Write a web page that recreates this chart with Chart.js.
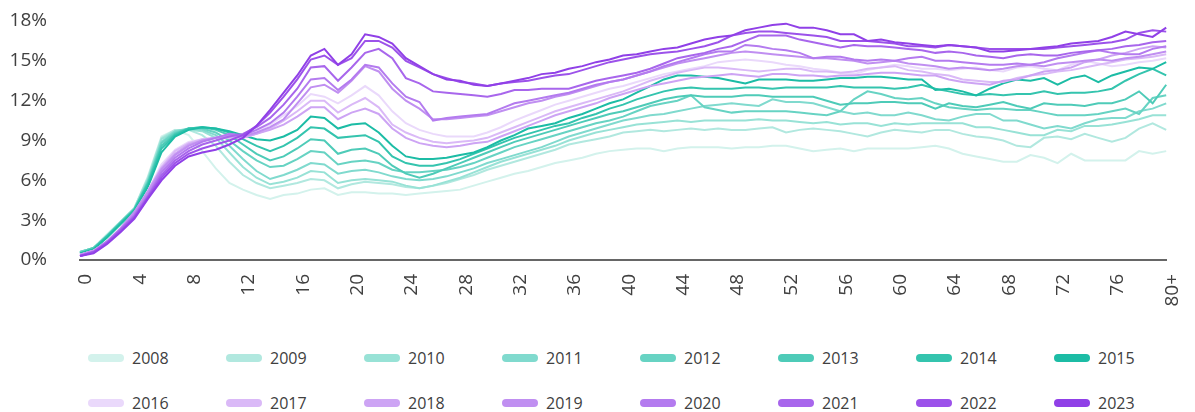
<!DOCTYPE html>
<html>
<head>
    <meta charset="utf-8"/>
    <title></title>
    <script src="https://cdn.jsdelivr.net/npm/chart.js"></script>
    <style>
      body { margin: 0; background: #fff; font-family: "Open Sans", sans-serif; }
      #wrap { position: absolute; left: 0; top: 0; width: 1195px; height: 325px; }
      #legend { position: absolute; left: 88px; top: 346px; width: 1104px; }
      .row { display: flex; height: 45px; }
      .item { width: 138px; display: flex; align-items: center; height: 24px; }
      .swatch { width: 36px; height: 8px; border-radius: 4px; margin-right: 8px; }
      .label { font-size: 16px; color: #404040; }
    </style>
</head>
<body>
    <div id="wrap"><canvas id="ageChart" width="1195" height="325"></canvas></div>
    <div id="legend"></div>

    <script type="text/javascript">
      // Age categories (x axis)
      const ages = ['0','1','2','3','4','5','6','7','8','9','10','11','12','13','14','15','16','17','18','19',
        '20','21','22','23','24','25','26','27','28','29','30','31','32','33','34','35','36','37','38','39',
        '40','41','42','43','44','45','46','47','48','49','50','51','52','53','54','55','56','57','58','59',
        '60','61','62','63','64','65','66','67','68','69','70','71','72','73','74','75','76','77','78','79','80+'];

      const years = ['2008','2009','2010','2011','2012','2013','2014','2015',
                     '2016','2017','2018','2019','2020','2021','2022','2023'];

      const colors = ['#d3f2ec','#b1e8df','#98e2d6','#80dace','#67d3c3','#4ecbb8','#34c4ae','#1cbca5',
                      '#ead9fb','#dab9f7','#cda4f4','#c08ff1','#b47bef','#a866ec','#9c52ea','#9040e7'];

      const yTicks = [0, 3, 6, 9, 12, 15, 18];

      // share (%) per age, one array per year
      const s2008 = [0.6,0.9,1.9,2.9,3.9,6.3,9.3,9.8,9.4,8.2,
        6.9,5.8,5.3,4.9,4.6,4.9,5.0,5.3,5.4,4.9,
        5.1,5.1,5.0,5.0,4.9,5.0,5.1,5.2,5.3,5.6,
        5.9,6.2,6.5,6.7,7.0,7.3,7.5,7.7,8.0,8.2,
        8.3,8.4,8.4,8.2,8.4,8.5,8.5,8.5,8.4,8.5,
        8.5,8.6,8.6,8.4,8.2,8.3,8.4,8.2,8.4,8.4,
        8.4,8.4,8.5,8.6,8.4,8.0,7.8,7.6,7.4,7.4,
        7.9,7.7,7.3,8.0,7.5,7.5,7.5,7.5,8.2,8.0,8.2];
      const s2009 = [0.6,0.9,1.9,2.9,3.9,6.2,9.2,9.8,9.8,9.4,
        8.6,7.4,6.4,5.8,5.4,5.6,5.8,6.1,6.0,5.4,
        5.7,5.9,5.8,5.7,5.5,5.4,5.6,5.8,6.1,6.4,
        6.8,7.1,7.4,7.7,8.0,8.3,8.7,8.9,9.1,9.3,
        9.6,9.7,9.8,9.7,9.8,9.9,9.8,9.9,9.8,9.8,
        9.9,10.0,9.6,9.8,9.9,9.8,9.7,9.5,9.3,9.6,
        9.8,9.7,9.6,9.8,9.8,9.5,9.3,9.2,9.0,8.6,
        8.5,9.2,9.3,9.1,9.5,9.2,8.9,9.2,9.9,10.3,9.8];
      const s2010 = [0.6,0.9,1.9,2.9,3.9,6.1,9.1,9.7,9.8,9.7,
        9.2,8.1,7.0,6.2,5.7,5.9,6.2,6.7,6.6,5.8,
        6.0,6.1,6.0,5.9,5.6,5.4,5.6,5.9,6.2,6.6,
        7.0,7.4,7.7,8.0,8.3,8.6,9.0,9.3,9.6,9.8,
        10.0,10.2,10.3,10.4,10.5,10.4,10.5,10.5,10.5,10.5,
        10.6,10.5,10.5,10.4,10.3,10.4,10.2,10.3,10.3,10.1,
        10.3,10.2,10.3,10.3,10.3,10.3,10.0,10.0,9.8,9.6,
        9.4,9.4,9.8,9.7,10.1,10.1,10.2,10.4,10.6,10.9,10.9];
      const s2011 = [0.6,0.9,1.8,2.8,3.8,6.0,8.9,9.7,9.9,9.8,
        9.4,8.6,7.6,6.7,6.1,6.4,6.8,7.3,7.2,6.5,
        6.7,6.8,6.6,6.3,6.1,6.0,6.1,6.3,6.6,6.9,
        7.3,7.6,7.9,8.2,8.5,8.9,9.3,9.6,9.9,10.2,
        10.5,10.7,10.9,11.0,11.2,11.4,11.6,11.7,11.8,11.7,
        11.6,12.1,11.9,11.9,11.8,11.5,11.2,11.0,11.1,10.9,
        10.9,11.1,10.9,10.6,10.5,10.8,11.0,11.0,10.5,10.5,
        10.2,9.9,10.1,9.9,10.3,10.6,10.7,10.7,11.2,11.4,11.8];
      const s2012 = [0.6,0.9,1.8,2.8,3.8,5.9,8.8,9.6,9.9,9.9,
        9.6,9.0,8.2,7.5,7.0,7.1,7.6,8.2,8.1,7.2,
        7.4,7.5,7.3,6.8,6.6,6.6,6.7,6.8,7.0,7.3,
        7.7,8.1,8.5,8.8,9.1,9.4,9.7,10.0,10.3,10.5,
        10.8,11.2,11.6,11.8,12.0,12.4,11.5,11.3,11.1,11.2,
        11.2,11.2,11.2,11.1,11.0,10.9,11.2,12.1,12.7,12.5,
        12.2,12.1,12.2,11.8,11.5,11.4,11.3,11.4,11.4,11.3,
        11.3,11.1,10.9,10.9,10.9,11.0,11.2,11.4,11.0,12.2,12.4];
      const s2013 = [0.5,0.9,1.8,2.8,3.8,5.8,8.6,9.5,9.9,10.0,
        9.8,9.4,8.7,8.0,7.5,7.8,8.4,9.1,9.0,8.0,
        8.3,8.4,8.0,7.1,6.5,6.2,6.5,6.9,7.3,7.7,
        8.1,8.5,8.9,9.2,9.5,9.8,10.1,10.4,10.7,11.0,
        11.2,11.5,11.8,12.1,12.3,12.4,12.3,12.3,12.3,12.4,
        12.4,12.3,12.3,12.3,12.3,12.0,11.7,11.8,11.8,11.9,
        11.9,11.8,11.8,11.4,11.8,11.6,11.5,11.7,11.9,11.6,
        11.4,11.8,11.7,11.7,11.6,11.8,11.8,12.1,12.7,11.8,13.2];
      const s2014 = [0.5,0.8,1.8,2.8,3.8,5.7,8.4,9.4,9.9,10.0,
        9.9,9.6,9.1,8.6,8.2,8.6,9.2,10.0,9.9,9.2,
        9.3,9.4,8.9,7.8,7.3,7.1,7.1,7.3,7.6,8.0,
        8.4,8.8,9.2,9.5,9.8,10.1,10.3,10.7,11.0,11.4,
        11.7,12.1,12.4,12.7,12.9,13.0,12.9,12.9,12.9,13.0,
        13.0,12.9,13.0,13.0,13.0,13.0,13.1,13.0,13.0,13.0,
        12.9,13.0,13.2,12.9,12.7,12.5,12.4,12.5,12.4,12.5,
        12.5,12.7,12.5,12.6,12.6,12.7,12.9,13.5,14.0,14.4,13.9];
      const s2015 = [0.5,0.8,1.7,2.7,3.7,5.5,8.1,9.3,9.8,10.0,
        9.9,9.7,9.4,9.1,9.0,9.3,9.8,10.8,10.7,9.9,
        10.2,10.3,9.6,8.6,7.8,7.6,7.6,7.7,7.9,8.1,
        8.5,9.0,9.4,9.9,10.1,10.3,10.7,11.0,11.4,11.8,
        12.1,12.6,13.1,13.6,13.9,13.9,13.8,13.7,13.5,13.3,
        13.6,13.6,13.6,13.5,13.5,13.6,13.7,13.7,13.8,13.8,
        13.7,13.6,13.6,12.8,12.9,12.7,12.4,12.9,13.3,13.6,
        13.5,13.7,13.2,13.7,13.9,13.4,13.9,14.2,14.5,14.4,14.9];
      const s2016 = [0.4,0.7,1.3,2.3,3.4,5.2,7.2,8.3,8.9,9.1,
        9.2,9.2,9.3,9.7,10.2,10.9,11.6,12.5,12.3,11.8,
        12.4,13.1,12.4,11.2,10.3,9.8,9.5,9.3,9.3,9.3,
        9.6,10.0,10.5,10.9,11.3,11.7,12.0,12.3,12.6,12.9,
        13.1,13.4,13.7,14.0,14.2,14.4,14.6,14.9,15.0,15.1,
        15.0,14.9,14.7,14.6,14.4,14.3,14.1,14.0,14.3,14.5,
        14.7,14.6,14.4,14.4,14.3,14.4,14.5,14.3,14.2,14.5,
        14.6,14.4,14.3,14.7,15.0,14.8,14.6,14.7,14.9,15.0,15.2];
      const s2017 = [0.4,0.7,1.4,2.4,3.5,5.2,7.0,8.2,8.8,9.1,
        9.2,9.2,9.2,9.5,9.9,10.5,11.2,12.0,12.0,11.1,
        11.7,12.2,11.5,10.2,9.6,9.2,8.9,8.8,8.9,9.0,
        9.2,9.6,10.0,10.4,10.8,11.2,11.5,11.8,12.1,12.4,
        12.7,13.1,13.5,13.8,14.1,14.3,14.5,14.5,14.4,14.3,
        14.2,14.3,14.4,14.4,14.2,14.2,14.1,14.2,14.4,14.5,
        14.6,14.3,14.2,14.0,13.9,13.6,13.5,13.4,13.4,13.7,
        13.9,14.0,14.2,14.3,14.5,14.7,14.9,15.1,15.2,15.3,15.5];
      const s2018 = [0.4,0.7,1.4,2.4,3.6,5.2,6.9,8.0,8.7,9.0,
        9.2,9.3,9.2,9.5,9.8,10.2,10.8,11.5,11.5,10.6,
        11.1,11.4,11.0,9.9,9.2,8.8,8.6,8.5,8.6,8.8,
        8.9,9.3,9.7,10.1,10.5,10.9,11.2,11.5,11.8,12.2,
        12.5,12.8,13.1,13.3,13.5,13.7,13.8,13.9,14.0,13.9,
        13.8,14.0,14.0,13.9,13.9,13.8,13.9,13.9,14.0,14.1,
        14.1,14.0,13.9,13.9,13.6,13.4,13.3,13.2,13.5,13.6,
        13.9,14.2,14.3,14.5,14.9,15.1,15.4,15.6,15.9,16.1,16.0];
      const s2019 = [0.4,0.7,1.4,2.4,3.6,5.1,6.8,7.9,8.6,9.0,
        9.2,9.4,9.3,9.6,10.0,10.6,11.8,13.0,13.2,12.6,
        13.5,14.6,14.2,12.9,12.0,11.4,10.6,10.6,10.7,10.8,
        10.9,11.2,11.5,11.8,12.0,12.3,12.5,12.8,13.1,13.4,
        13.6,13.9,14.2,14.5,14.8,15.0,15.2,15.4,15.6,15.7,
        15.6,15.5,15.4,15.3,15.2,15.2,15.1,15.0,14.8,14.9,
        15.0,14.8,14.7,14.6,14.4,14.5,14.4,14.3,14.4,14.6,
        14.7,14.6,14.8,14.9,15.0,15.1,15.0,15.2,15.3,15.5,15.7];
      const s2020 = [0.3,0.6,1.4,2.3,3.4,4.9,6.6,7.7,8.4,8.9,
        9.2,9.5,9.4,9.8,10.3,11.1,12.3,13.6,13.7,12.8,
        13.6,14.7,14.5,13.3,12.3,11.9,10.5,10.7,10.8,10.9,
        11.0,11.4,11.8,12.0,12.2,12.4,12.6,12.9,13.2,13.4,
        13.6,13.9,14.2,14.6,14.9,15.2,15.5,15.7,15.7,16.2,
        16.1,15.9,15.8,15.6,15.2,15.3,15.3,15.1,15.0,15.1,
        15.0,15.2,15.3,15.0,15.0,14.9,14.8,14.7,14.7,14.8,
        14.7,14.9,15.2,15.4,15.6,15.8,15.6,15.5,15.5,15.9,16.1];
      const s2021 = [0.3,0.6,1.3,2.3,3.3,4.8,6.4,7.5,8.2,8.7,
        9.0,9.3,9.5,10.0,10.7,11.7,12.9,14.5,14.6,13.5,
        14.5,15.6,15.9,15.2,13.7,13.3,12.7,12.6,12.5,12.4,
        12.3,12.5,12.8,12.8,12.9,12.9,12.9,13.2,13.5,13.7,
        13.9,14.1,14.4,14.8,15.2,15.4,15.6,15.9,16.1,16.5,
        16.9,16.9,16.9,16.6,16.4,16.2,16.0,16.2,16.1,16.1,
        16.0,15.9,15.8,15.6,15.7,15.6,15.4,15.3,15.2,15.4,
        15.5,15.4,15.4,15.6,15.7,15.8,15.9,16.1,16.2,16.4,16.5];
      const s2022 = [0.3,0.6,1.3,2.2,3.2,4.7,6.2,7.3,8.0,8.4,
        8.7,9.0,9.4,10.1,11.1,12.3,13.6,15.1,15.4,14.7,
        15.2,16.5,16.5,16.0,15.0,14.5,14.0,13.7,13.4,13.3,
        13.1,13.3,13.4,13.5,13.7,13.9,14.0,14.3,14.6,14.9,
        15.1,15.3,15.5,15.6,15.7,15.9,16.1,16.4,16.9,17.1,
        17.2,17.2,17.1,17.0,16.9,16.8,16.5,16.5,16.5,16.4,
        16.3,16.1,16.1,16.0,16.2,16.1,16.0,15.9,15.9,15.9,
        15.9,15.9,16.0,16.1,16.2,16.3,16.4,16.6,17.1,17.3,17.2];
      const s2023 = [0.3,0.5,1.2,2.1,3.1,4.6,6.0,7.1,7.8,8.1,
        8.3,8.7,9.2,10.1,11.3,12.6,13.9,15.4,15.9,14.7,
        15.5,17.0,16.8,16.3,15.2,14.6,14.0,13.6,13.5,13.2,
        13.1,13.3,13.5,13.7,14.0,14.1,14.4,14.6,14.9,15.1,
        15.4,15.5,15.7,15.9,16.0,16.3,16.6,16.8,16.9,17.3,
        17.5,17.7,17.8,17.5,17.5,17.3,17.0,17.0,16.5,16.6,
        16.4,16.3,16.2,16.1,16.2,16.1,16.0,15.7,15.7,15.8,
        15.9,16.0,16.1,16.3,16.4,16.5,16.8,17.2,17.0,16.8,17.5];

      const series = [s2008, s2009, s2010, s2011, s2012, s2013, s2014, s2015,
                      s2016, s2017, s2018, s2019, s2020, s2021, s2022, s2023];

      const datasets = years.map((y, i) => ({
        label: y,
        data: series[i],
        borderColor: colors[i],
        backgroundColor: colors[i],
        borderWidth: 2,
        pointRadius: 0,
        tension: 0,
        fill: false,
        order: years.length - i   // later years drawn on top
      }));

      const ctx = document.getElementById('ageChart').getContext('2d');
      const chart = new Chart(ctx, {
        type: 'line',
        data: { labels: ages, datasets: datasets },
        options: {
          responsive: false,
          animation: false,
          layout: { padding: { top: 21, right: 21, bottom: 0, left: 0 } },
          plugins: { legend: { display: false }, tooltip: { enabled: false } },
          scales: {
            x: {
              offset: false,
              grid: { display: false },
              border: { display: true, color: '#666', width: 2 },
              afterFit: s => { s.height = 65; },
              ticks: {
                autoSkip: false,
                minRotation: 90,
                maxRotation: 90,
                labelOffset: 6,
                padding: 6,
                color: '#404040',
                font: { family: 'Open Sans', size: 19 },
                callback: function(v, i) { return i % 4 === 0 ? ages[i] : ''; }
              }
            },
            y: {
              min: 0,
              max: 18,
              grid: { display: false },
              border: { display: false },
              afterFit: s => {
                s.width = 80;
                // the big label padding should not push the plot down
                s.paddingTop = 0;
                s.paddingBottom = 0;
              },
              afterBuildTicks: s => { s.ticks = yTicks.map(v => ({ value: v })); },
              ticks: {
                padding: 25,
                color: '#404040',
                font: { family: 'Open Sans', size: 19 },
                callback: v => v + '%'
              }
            }
          }
        }
      });

      // legend in two rows of eight
      const legend = document.getElementById('legend');
      for (let r = 0; r < 2; r++) {
        const row = document.createElement('div');
        row.className = 'row';
        for (let c = 0; c < 8; c++) {
          const i = r * 8 + c;
          const item = document.createElement('div');
          item.className = 'item';
          item.innerHTML = '<span class="swatch" style="background:' + colors[i] + '"></span>' +
                           '<span class="label">' + years[i] + '</span>';
          row.appendChild(item);
        }
        legend.appendChild(row);
      }
    </script>
</body>
</html>
